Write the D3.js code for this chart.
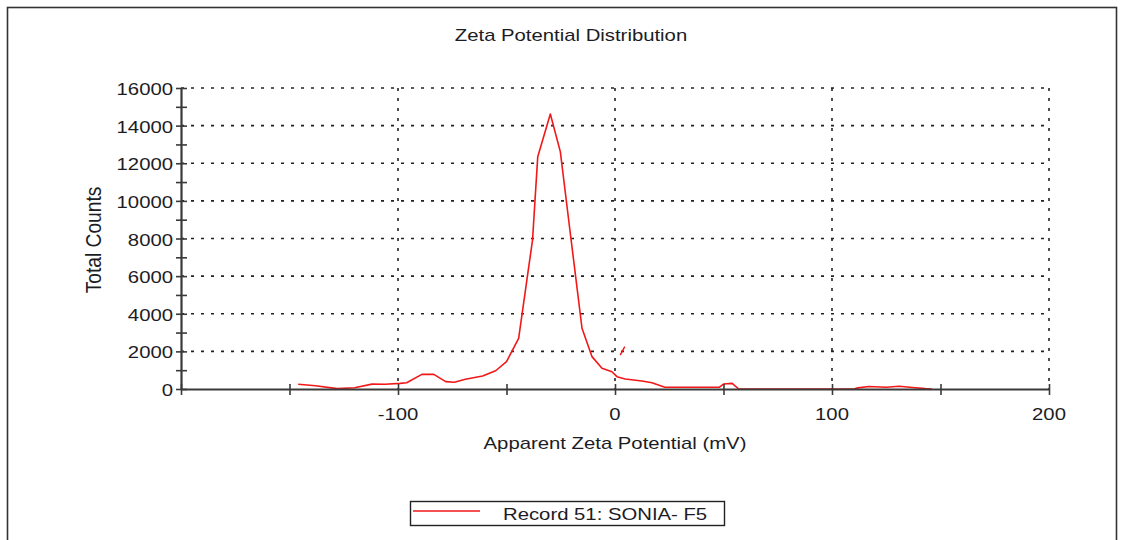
<!DOCTYPE html>
<html>
<head>
<meta charset="utf-8">
<script src="https://cdn.jsdelivr.net/npm/d3@7"></script>
<style>
  html, body { margin: 0; padding: 0; background: #fff; }
  svg { display: block; }
  text { font-family: "Liberation Sans", Arial, sans-serif; fill: #1c1c24; }
</style>
</head>
<body>
<svg id="chart" width="1121" height="540"></svg>
<script>
// Apparent zeta potential (mV) and total counts for record 51
const zeta = [-146, -138, -128, -120, -112, -106, -99, -96, -89, -83.5, -78, -74, -69, -61, -55, -50,
  -44.4, -40.6, -38, -35.6, -29.8, -25.2, -20.6, -15.2, -10.6, -6, -1.4, 0.9, 4.7, 12.4, 17, 23,
  48, 50, 54, 57, 110, 112, 117, 125, 131, 137, 143, 146];
const counts = [250, 170, 20, 70, 260, 250, 300, 330, 780, 780, 390, 360, 520, 690, 970, 1450,
  2690, 5800, 7920, 12350, 14620, 12620, 8280, 3230, 1720, 1100, 920, 655, 530, 425, 335, 90,
  90, 265, 300, 0, 0, 60, 130, 90, 150, 80, 20, 0];

// short detached trace segment just right of 0 mV
const fragZeta = [2.4, 4.5];
const fragCounts = [1800, 2250];

const xTicks = [-200, -150, -100, -50, 0, 50, 100, 150, 200];
const xTickLabels = [-100, 0, 100, 200];
const xGrid = [-100, 0, 100, 200];
const yTicks = d3.range(0, 16001, 1000);
const yTickLabels = d3.range(0, 16001, 2000);

const title = "Zeta Potential Distribution";
const xTitle = "Apparent Zeta Potential (mV)";
const yTitle = "Total Counts";
const seriesName = "Record 51: SONIA- F5";

const svg = d3.select("#chart");
const plotLeft = 181, plotRight = 1049, plotTop = 88, plotBottom = 389;
const stretch = 1.27;   // wide printout lettering
const fontSize = 16;

const x = d3.scaleLinear().domain([-200, 200]).range([plotLeft, plotRight]);
const y = d3.scaleLinear().domain([0, 16000]).range([plotBottom, plotTop]);

// horizontally widened label anchored at (px, py)
function label(parent, px, py, str, anchor) {
  return parent.append("text")
    .attr("transform", `translate(${px},${py}) scale(${stretch},1)`)
    .attr("text-anchor", anchor || "start")
    .style("font-size", fontSize + "px")
    .text(str);
}

// page frame
svg.append("rect")
  .attr("x", 7.5).attr("y", 7.5).attr("width", 1109).attr("height", 560)
  .attr("fill", "none").attr("stroke", "#333").attr("stroke-width", 1.6);

// title
label(svg, 571, 41, title, "middle");

// dotted grid
const grid = svg.append("g").attr("stroke", "#222").attr("stroke-width", 1.6)
  .attr("stroke-dasharray", "3,7");
grid.selectAll("line.h").data(yTickLabels.filter(d => d > 0)).join("line")
  .attr("class", "h")
  .attr("x1", plotLeft).attr("x2", plotRight)
  .attr("y1", d => y(d)).attr("y2", d => y(d));
grid.selectAll("line.v").data(xGrid).join("line")
  .attr("class", "v")
  .attr("x1", d => x(d)).attr("x2", d => x(d))
  .attr("y1", plotTop).attr("y2", plotBottom);

// distribution curve
const line = d3.line().x(d => x(d[0])).y(d => y(d[1]));
const red = "#f01818";
svg.append("path").datum(zeta.map((v, i) => [v, counts[i]]))
  .attr("fill", "none").attr("stroke", red).attr("stroke-width", 1.6)
  .attr("stroke-linejoin", "round").attr("d", line);
svg.append("path").datum(fragZeta.map((v, i) => [v, fragCounts[i]]))
  .attr("fill", "none").attr("stroke", red).attr("stroke-width", 1.4)
  .attr("d", line);

// axes
const axisColor = "#3a3a3a";
const xAxis = d3.axisBottom(x).tickValues(xTicks).tickSize(0).tickFormat("");
const gx = svg.append("g").attr("transform", `translate(0,${plotBottom})`).call(xAxis);
gx.select(".domain").attr("stroke", axisColor).attr("stroke-width", 2.2);
gx.selectAll(".tick line").attr("y1", -5).attr("y2", 6)
  .attr("stroke", axisColor).attr("stroke-width", 1.6);

const xl = svg.append("g");
xTickLabels.forEach(d => label(xl, x(d), 420, d, "middle"));

const yAxis = d3.axisLeft(y).tickValues(yTicks).tickSize(0).tickFormat("");
const gy = svg.append("g").attr("transform", `translate(${plotLeft},0)`).call(yAxis);
gy.select(".domain").attr("stroke", axisColor).attr("stroke-width", 2.2);
gy.selectAll(".tick line").attr("x1", -5).attr("x2", 6)
  .attr("stroke", axisColor).attr("stroke-width", 1.6);

const yl = svg.append("g");
yTickLabels.forEach(d => label(yl, 173, y(d) + 7, d, "end"));

// axis titles
label(svg, 615, 449, xTitle, "middle");
svg.append("text")
  .attr("transform", `translate(101,240) rotate(-90) scale(1.13,${stretch})`)
  .attr("text-anchor", "middle").style("font-size", "17px").text(yTitle);

// legend
const lg = svg.append("g");
lg.append("rect").attr("x", 410.5).attr("y", 501.5).attr("width", 314).attr("height", 24)
  .attr("fill", "#fff").attr("stroke", "#222").attr("stroke-width", 1.4);
lg.append("line").attr("x1", 413).attr("x2", 480).attr("y1", 511).attr("y2", 511)
  .attr("stroke", red).attr("stroke-width", 1.6);
label(lg, 503, 520, seriesName, "start");
</script>
</body>
</html>
